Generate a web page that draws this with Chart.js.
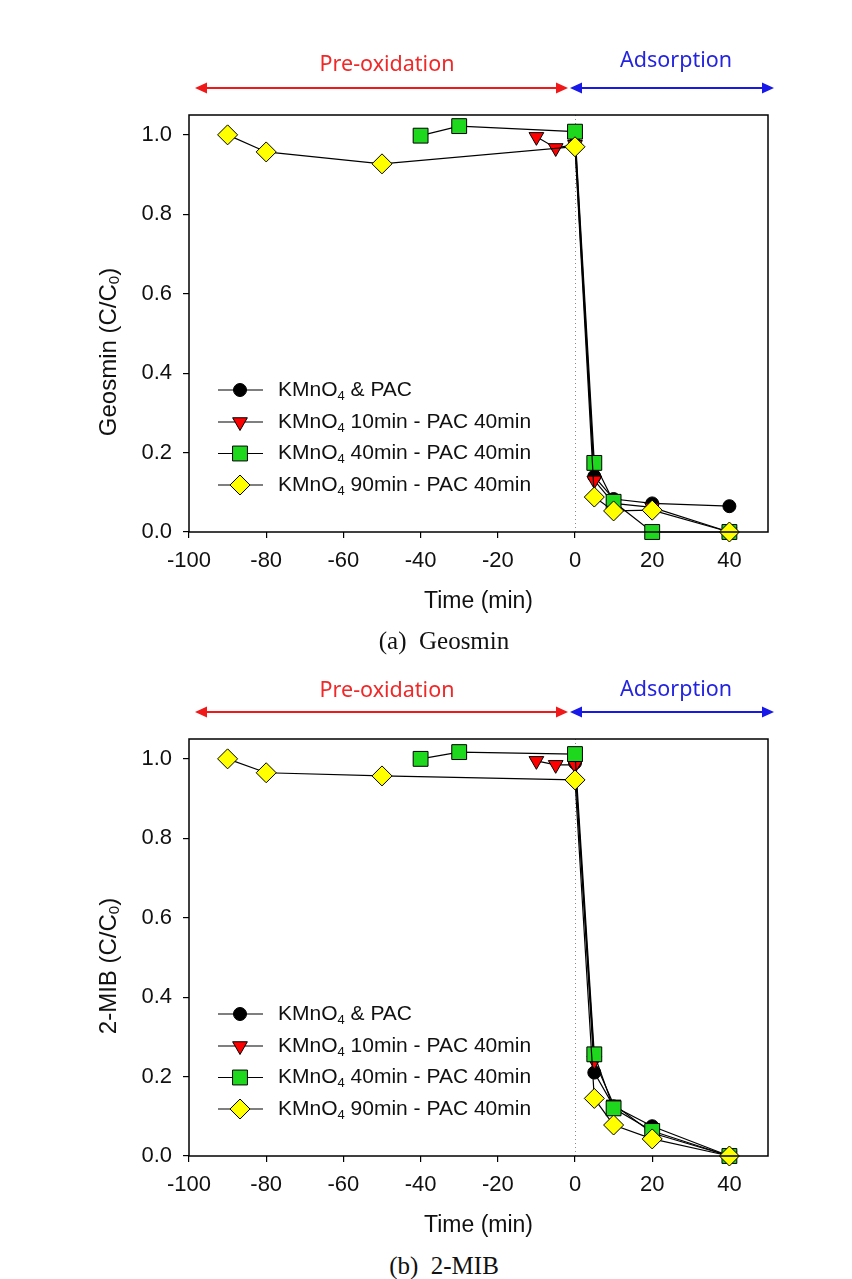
<!DOCTYPE html>
<html><head><meta charset="utf-8">
<script src="https://cdn.jsdelivr.net/npm/chart.js@4/dist/chart.umd.min.js"></script>
<style>
html,body{margin:0;padding:0;background:#fff;}
#wrap{position:relative;width:852px;height:1279px;overflow:hidden;background:#fff;}
.cv{position:absolute;left:0;width:852px;height:624px;}
.lbl{position:absolute;font-family:"Noto Sans",sans-serif;font-size:21.5px;white-space:nowrap;transform:translate(-50%,-50%);}
.cap{position:absolute;font-family:"Liberation Serif",serif;font-size:25px;white-space:pre;transform:translate(-50%,-50%);color:#111;}
</style></head>
<body><div id="wrap">
<div class="cv" style="top:0"><canvas id="c1"></canvas></div>
<div class="cv" style="top:624px"><canvas id="c2"></canvas></div>
<div class="lbl" style="left:387px;top:62px;color:#f02828">Pre-oxidation</div>
<div class="lbl" style="left:676px;top:58px;color:#2424e0">Adsorption</div>
<div class="lbl" style="left:387px;top:688px;color:#f02828">Pre-oxidation</div>
<div class="lbl" style="left:676px;top:687px;color:#2424e0">Adsorption</div>
<div class="cap" style="left:444px;top:641px">(a)  Geosmin</div>
<div class="cap" style="left:444px;top:1266px">(b)  2-MIB</div>
</div>
<script>
// ---- data ----
const xTicks = [-100, -80, -60, -40, -20, 0, 20, 40];
const yTicks = [0, 0.2, 0.4, 0.6, 0.8, 1.0];

const seriesPrefix = ['KMnO', 'KMnO', 'KMnO', 'KMnO'];
const seriesSub = ['4', '4', '4', '4'];
const seriesRest = [' & PAC', ' 10min - PAC 40min', ' 40min - PAC 40min', ' 90min - PAC 40min'];

const xBlack = [0, 5, 10, 20, 40];
const xRed = [-10, -5, 0, 5, 10, 20, 40];
const xGreen = [-40, -30, 0, 5, 10, 20, 40];
const xYellow = [-90, -80, -50, 0, 5, 10, 20, 40];

const geoBlack = [1.0, 0.14, 0.083, 0.072, 0.065];
const geoRed = [0.995, 0.967, 0.975, 0.13, 0.072, 0.062, 0.0];
const geoGreen = [0.998, 1.022, 1.008, 0.174, 0.076, 0.0, 0.0];
const geoYellow = [1.0, 0.957, 0.927, 0.97, 0.088, 0.053, 0.055, 0.0];

const mibBlack = [0.99, 0.21, 0.125, 0.075, 0.0];
const mibRed = [0.995, 0.985, 0.985, 0.24, 0.13, 0.058, 0.0];
const mibGreen = [1.0, 1.017, 1.012, 0.256, 0.12, 0.063, 0.0];
const mibYellow = [1.0, 0.965, 0.957, 0.947, 0.145, 0.078, 0.043, 0.0];

// ---- styles ----
const styles = [
  {fill: '#000000', pointStyle: 'circle', radius: 6.5, rotation: 0},
  {fill: '#ff0000', pointStyle: 'triangle', radius: 8.5, rotation: 180},
  {fill: '#1ed81e', pointStyle: 'rect', radius: 10.5, rotation: 0},
  {fill: '#ffff00', pointStyle: 'rectRot', radius: 10, rotation: 0}
];
const FONT = '"Liberation Sans", Arial, sans-serif';

function toPts(xs, ys) { return xs.map((x, i) => ({x: x, y: ys[i]})); }

function makeDatasets(b, r, g, y) {
  const vals = [[xBlack, b], [xRed, r], [xGreen, g], [xYellow, y]];
  return vals.map((v, i) => ({
    label: seriesPrefix[i] + seriesSub[i] + seriesRest[i],
    data: toPts(v[0], v[1]),
    borderColor: '#000',
    borderWidth: 1.2,
    backgroundColor: styles[i].fill,
    pointBackgroundColor: styles[i].fill,
    pointBorderColor: '#000',
    pointBorderWidth: 1,
    pointStyle: styles[i].pointStyle,
    pointRadius: styles[i].radius,
    pointRotation: styles[i].rotation,
    pointHoverRadius: styles[i].radius,
    tension: 0,
    showLine: true,
    order: 3 - i,
    clip: false
  }));
}

function drawMarker(ctx, st, x, y) {
  ctx.save();
  ctx.fillStyle = st.fill; ctx.strokeStyle = '#000'; ctx.lineWidth = 1;
  ctx.beginPath();
  const r = st.radius;
  if (st.pointStyle === 'circle') {
    ctx.arc(x, y, r, 0, Math.PI * 2);
  } else if (st.pointStyle === 'triangle') {
    const h = r;
    ctx.moveTo(x, y + h);
    ctx.lineTo(x - h * Math.sin(Math.PI / 3), y - h / 2);
    ctx.lineTo(x + h * Math.sin(Math.PI / 3), y - h / 2);
    ctx.closePath();
  } else if (st.pointStyle === 'rect') {
    const s = r * Math.SQRT1_2;
    ctx.rect(x - s, y - s, 2 * s, 2 * s);
  } else {
    ctx.moveTo(x, y - r); ctx.lineTo(x + r, y); ctx.lineTo(x, y + r); ctx.lineTo(x - r, y); ctx.closePath();
  }
  ctx.fill(); ctx.stroke();
  ctx.restore();
}

function drawSubText(ctx, x, y, pre, sub, post, size, subSize, subDy) {
  ctx.font = size + 'px ' + FONT;
  ctx.fillText(pre, x, y);
  let w = ctx.measureText(pre).width;
  ctx.font = subSize + 'px ' + FONT;
  ctx.fillText(sub, x + w, y + subDy);
  w += ctx.measureText(sub).width;
  ctx.font = size + 'px ' + FONT;
  ctx.fillText(post, x + w, y);
}
function measureSub(ctx, pre, sub, post, size, subSize) {
  ctx.font = size + 'px ' + FONT;
  let w = ctx.measureText(pre).width + ctx.measureText(post).width;
  ctx.font = subSize + 'px ' + FONT;
  return w + ctx.measureText(sub).width;
}

function decorPlugin(yTitlePre, yTitleSub, yTitlePost, yTitleCenter) {
  return {
    id: 'decor',
    beforeDatasetsDraw(chart) {
      const ctx = chart.ctx, a = chart.chartArea;
      const x0 = chart.scales.x.getPixelForValue(0);
      ctx.save();
      ctx.strokeStyle = '#8a8a8a'; ctx.lineWidth = 1; ctx.setLineDash([1, 3]);
      ctx.beginPath(); ctx.moveTo(x0 + 0.5, a.top); ctx.lineTo(x0 + 0.5, a.bottom); ctx.stroke();
      ctx.restore();
    },
    afterDraw(chart) {
      const ctx = chart.ctx, a = chart.chartArea;
      ctx.save();
      // frame
      ctx.strokeStyle = '#000'; ctx.lineWidth = 1.5;
      ctx.strokeRect(a.left, a.top, a.right - a.left, a.bottom - a.top);
      // arrows
      function arrow(x1, x2, y, col) {
        ctx.strokeStyle = col; ctx.fillStyle = col; ctx.lineWidth = 2;
        ctx.beginPath(); ctx.moveTo(x1 + 8, y); ctx.lineTo(x2 - 8, y); ctx.stroke();
        ctx.beginPath(); ctx.moveTo(x1, y); ctx.lineTo(x1 + 12, y - 5.5); ctx.lineTo(x1 + 12, y + 5.5); ctx.closePath(); ctx.fill();
        ctx.beginPath(); ctx.moveTo(x2, y); ctx.lineTo(x2 - 12, y - 5.5); ctx.lineTo(x2 - 12, y + 5.5); ctx.closePath(); ctx.fill();
      }
      arrow(195, 568, 88, '#f01818');
      arrow(570, 774, 88, '#1818e8');
      // legend
      ctx.fillStyle = '#111'; ctx.textBaseline = 'middle'; ctx.textAlign = 'left';
      const rows = [390, 422, 453.5, 485];
      chart.data.datasets.forEach((ds, i) => {
        const y = rows[i];
        ctx.strokeStyle = '#000'; ctx.lineWidth = 1.2;
        ctx.beginPath(); ctx.moveTo(218, y); ctx.lineTo(263, y); ctx.stroke();
        drawMarker(ctx, styles[i], 240, y);
        ctx.fillStyle = '#111';
        drawSubText(ctx, 278, y, seriesPrefix[i], seriesSub[i], seriesRest[i], 21, 13, 6);
      });
      // y title (rotated)
      ctx.translate(109, yTitleCenter);
      ctx.rotate(-Math.PI / 2);
      const w = measureSub(ctx, yTitlePre, yTitleSub, yTitlePost, 24, 15);
      ctx.fillStyle = '#111';
      drawSubText(ctx, -w / 2, 0, yTitlePre, yTitleSub, yTitlePost, 24, 15, 6);
      ctx.restore();
    }
  };
}

function makeChart(id, datasets, plugin) {
  return new Chart(document.getElementById(id), {
    type: 'line',
    data: {datasets: datasets},
    options: {
      responsive: true, maintainAspectRatio: false, animation: false,
      layout: {padding: {top: 115, right: 84, bottom: 0, left: 0}},
      plugins: {legend: {display: false}, tooltip: {enabled: false}},
      scales: {
        x: {
          type: 'linear', min: -100, max: 50,
          afterBuildTicks: s => { s.ticks = xTicks.map(v => ({value: v})); },
          afterFit: s => { s.height = 92; },
          grid: {display: true, drawOnChartArea: false, drawTicks: true, tickLength: 6, color: '#000', lineWidth: 1.2},
          border: {display: false},
          ticks: {font: {family: FONT, size: 22}, color: '#111', padding: 10, maxRotation: 0, autoSkip: false},
          title: {display: true, text: 'Time (min)', font: {family: FONT, size: 23}, color: '#111', padding: {top: 0, bottom: 9}}
        },
        y: {
          type: 'linear', min: 0, max: 1.05,
          afterBuildTicks: s => { s.ticks = yTicks.map(v => ({value: v})); },
          afterFit: s => { s.width = 189; },
          grid: {display: true, drawOnChartArea: false, drawTicks: true, tickLength: 6, color: '#000', lineWidth: 1.2},
          border: {display: false},
          ticks: {font: {family: FONT, size: 22}, color: '#111', padding: 11, callback: v => Number(v).toFixed(1)}
        }
      }
    },
    plugins: [plugin]
  });
}

makeChart('c1', makeDatasets(geoBlack, geoRed, geoGreen, geoYellow), decorPlugin('Geosmin (C/C', '0', ')', 352));
makeChart('c2', makeDatasets(mibBlack, mibRed, mibGreen, mibYellow), decorPlugin('2-MIB (C/C', '0', ')', 342));
</script>
</body></html>
